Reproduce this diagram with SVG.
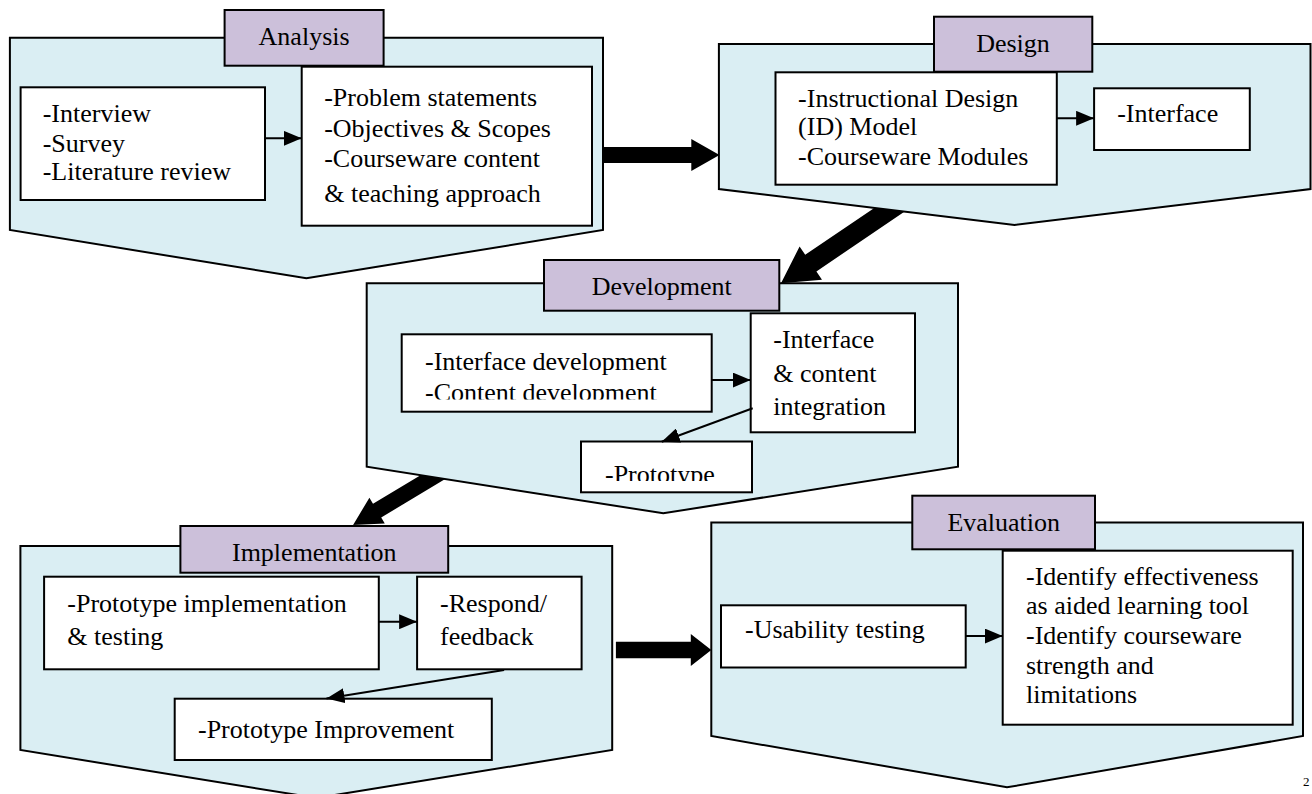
<svg xmlns="http://www.w3.org/2000/svg" width="1312" height="794" viewBox="0 0 1312 794">
  <style>
    .pent { fill: #DAEEF3; stroke: #000; stroke-width: 2; stroke-linejoin: miter; }
    .lbl { fill: #CCC0DA; stroke: #000; stroke-width: 2; }
    .box { fill: #FFFFFF; stroke: #000; stroke-width: 2; }
    .t { font-family: "Liberation Serif", "Times New Roman", serif; font-size: 26px; fill: #000; }
    .c { text-anchor: middle; }
    .link { stroke: #000; stroke-width: 2; fill: none; marker-end: url(#head); }
    .big { fill: #000; stroke: none; }
  </style>
  <defs>
    <marker id="head" markerUnits="userSpaceOnUse" markerWidth="18" markerHeight="15" refX="18" refY="7.5" orient="auto">
      <path d="M0,0 L18,7.5 L0,15 Z" fill="#000"/>
    </marker>
    <clipPath id="clipContent"><rect x="402" y="335" width="309" height="64.5"/></clipPath>
    <clipPath id="clipProto"><rect x="582" y="442" width="169" height="39"/></clipPath>
  </defs>

  <rect x="0" y="0" width="1312" height="794" fill="#FFFFFF"/>

  <!-- Analysis phase -->
  <g id="analysis">
    <polygon class="pent" points="9.9,37.7 603,37.7 603,230 306.4,278.3 9.9,230"/>
    <rect class="lbl" x="224.6" y="10" width="159" height="55.7"/>
    <text class="t c" x="304.1" y="45">Analysis</text>
    <rect class="box" x="20.6" y="87.3" width="244.4" height="112.7"/>
    <text class="t" x="42.7" y="121.7">-Interview</text>
    <text class="t" x="42.7" y="151.7">-Survey</text>
    <text class="t" x="42.7" y="180">-Literature review</text>
    <rect class="box" x="301.7" y="66.7" width="290.3" height="159"/>
    <text class="t" x="324.2" y="106">-Problem statements</text>
    <text class="t" x="324.2" y="136.7">-Objectives &amp; Scopes</text>
    <text class="t" x="324.2" y="166.7">-Courseware content</text>
    <text class="t" x="324.2" y="201.7">&amp; teaching approach</text>
  </g>

  <!-- Design phase -->
  <g id="design">
    <polygon class="pent" points="718.9,44 1310.5,44 1310.5,189 1014.5,225 718.9,189"/>
    <rect class="lbl" x="934" y="16.7" width="158.3" height="55"/>
    <text class="t c" x="1013" y="51.7">Design</text>
    <rect class="box" x="775.5" y="72.3" width="281.3" height="112.4"/>
    <text class="t" x="798.1" y="106.7">-Instructional Design</text>
    <text class="t" x="798.1" y="135">(ID) Model</text>
    <text class="t" x="798.1" y="165">-Courseware Modules</text>
    <rect class="box" x="1094.1" y="88.3" width="155.7" height="61.7"/>
    <text class="t" x="1117.2" y="122.3">-Interface</text>
  </g>

  <!-- Development phase -->
  <g id="development">
    <polygon class="pent" points="366.7,283.3 958,283.3 958,466.7 663.3,513.3 366.7,466.7"/>
    <rect class="lbl" x="544" y="260" width="235.3" height="50.7"/>
    <text class="t c" x="661.7" y="295">Development</text>
    <rect class="box" x="401.7" y="334.3" width="310" height="77.4"/>
    <text class="t" x="425" y="370">-Interface development</text>
    <text class="t" x="425" y="401" clip-path="url(#clipContent)">-Content development</text>
    <rect class="box" x="750.7" y="313.3" width="164.3" height="119"/>
    <text class="t" x="773.3" y="348.3">-Interface</text>
    <text class="t" x="773.3" y="381.7">&amp; content</text>
    <text class="t" x="773.3" y="415">integration</text>
    <rect class="box" x="581" y="441.5" width="171" height="50.8"/>
    <text class="t" x="605" y="482.5" clip-path="url(#clipProto)">-Prototype</text>
  </g>

  <!-- Implementation phase -->
  <g id="implementation">
    <polygon class="pent" points="20.4,546 612.2,546 612.2,750 316.3,798 20.4,750"/>
    <rect class="lbl" x="180.4" y="526" width="267.8" height="46.7"/>
    <text class="t c" x="314.3" y="560.7">Implementation</text>
    <rect class="box" x="44.1" y="576.7" width="334.7" height="92.6"/>
    <text class="t" x="67.3" y="611.7">-Prototype implementation</text>
    <text class="t" x="67.3" y="645">&amp; testing</text>
    <rect class="box" x="417.1" y="576.7" width="164.5" height="92.6"/>
    <text class="t" x="440" y="611.7">-Respond/</text>
    <text class="t" x="440" y="645">feedback</text>
    <rect class="box" x="174.7" y="698.7" width="317.1" height="61.3"/>
    <text class="t" x="198" y="738.3">-Prototype Improvement</text>
  </g>

  <!-- Evaluation phase -->
  <g id="evaluation">
    <polygon class="pent" points="711.3,522.5 1303,522.5 1303,736 1007,787.3 711.3,736"/>
    <rect class="lbl" x="912.3" y="495.7" width="182.7" height="53.6"/>
    <text class="t c" x="1003.7" y="530.7">Evaluation</text>
    <rect class="box" x="721" y="605.3" width="244.7" height="62.2"/>
    <text class="t" x="745" y="638.3">-Usability testing</text>
    <rect class="box" x="1002.7" y="550.7" width="290" height="174"/>
    <text class="t" x="1026" y="585">-Identify effectiveness</text>
    <text class="t" x="1026" y="614.3">as aided learning tool</text>
    <text class="t" x="1026" y="644.3">-Identify courseware</text>
    <text class="t" x="1026" y="674.3">strength and</text>
    <text class="t" x="1026" y="703.3">limitations</text>
  </g>

  <!-- Connectors -->
  <g id="connectors">
    <line class="link" x1="265" y1="138.3" x2="301.7" y2="138.3"/>
    <line class="link" x1="1056.8" y1="118.3" x2="1094.1" y2="118.3"/>
    <line class="link" x1="711.7" y1="380" x2="750.7" y2="380"/>
    <line class="link" x1="752.7" y1="408.3" x2="661.7" y2="441.7"/>
    <line class="link" x1="378.8" y1="621.7" x2="417.1" y2="621.7"/>
    <line class="link" x1="504.1" y1="670" x2="326.5" y2="698.5"/>
    <line class="link" x1="965.7" y1="636" x2="1002.7" y2="636"/>

    <!-- block arrows between phases -->
    <polygon class="big" points="603,147 691.3,147 691.3,139 719.5,155 691.3,171 691.3,163 603,163"/>
    <polygon class="big" points="874.3,208 904.7,211.6 816.4,271.4 822,279.7 781,283.3 799.6,246.5 805.2,254.8"/>
    <polygon class="big" points="420.5,475.2 445.2,479 381.2,517.5 384.8,523.5 353.1,525 369.4,497.7 373,503.7"/>
    <polygon class="big" points="615.9,641.7 690.8,641.7 690.8,634 711.3,650 690.8,666 690.8,658.3 615.9,658.3"/>
  </g>

  <!-- page number at the right margin -->
  <text class="t" x="1303" y="786" style="font-size:13px">2</text>
</svg>
